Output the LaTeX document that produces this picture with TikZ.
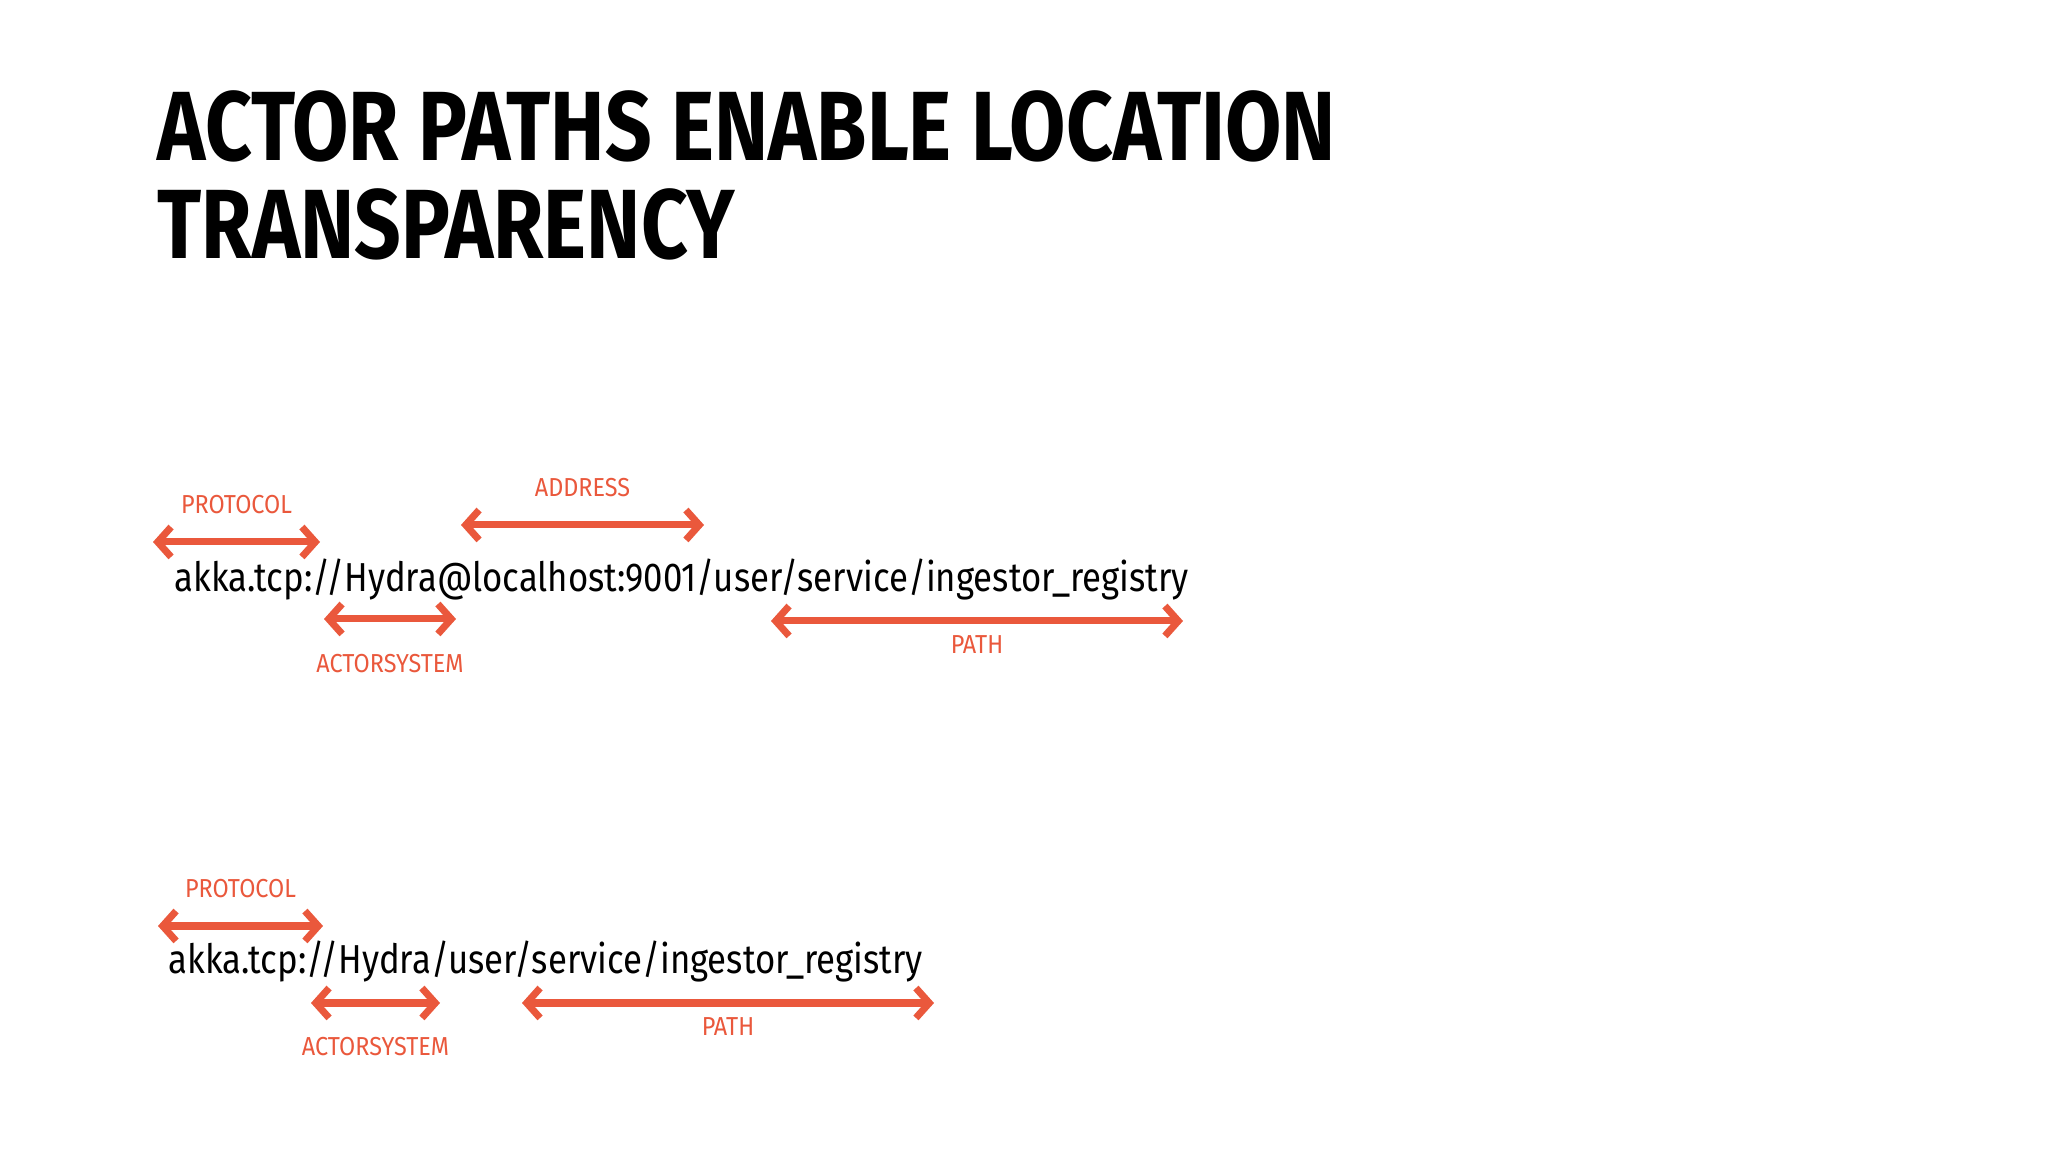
\documentclass[tikz,border=0pt]{standalone}
\usepackage{fontspec}
\usepackage{tikz}
\usetikzlibrary{arrows.meta,positioning}
\setmainfont{Fira Sans}
\newfontfamily\titlefont[FakeStretch=0.83]{Fira Sans}
\newfontfamily\addrfont[FakeStretch=0.86]{Fira Sans}
\newfontfamily\partfont[FakeStretch=0.9]{Fira Sans}
\definecolor{akkared}{RGB}{234,88,60}
\tikzset{
  span/.style={{Straight Barb[length=3.8pt,width=8.5pt]}-{Straight Barb[length=3.8pt,width=8.5pt]},
    draw=akkared, line width=2pt, line cap=round, line join=round},
  part/.style={text=akkared, inner sep=0pt, font=\partfont\fontsize{7.4}{8}\selectfont},
  addr/.style={anchor=base west, inner sep=0pt, font=\addrfont\fontsize{11.5}{13}\selectfont},
  headline/.style={anchor=base west, inner sep=0pt, font=\titlefont\bfseries\fontsize{28}{34}\selectfont}
}
\begin{document}
\begin{tikzpicture}
    \useasboundingbox[fill=white] (0,0) rectangle (20.48,11.52);
    % title
    \node[headline] (title1) at (1.57,9.91) {ACTOR PATHS ENABLE LOCATION};
    \node[headline] (title2) at (1.57,8.93) {TRANSPARENCY};
    % remote path
    \node[addr] (remote) at (1.74,5.60) {akka.tcp://Hydra@localhost:9001/user/service/ingestor\_registry};
    \coordinate (rprotoL) at (1.53,6.10);
    \coordinate (rprotoR) at (3.20,6.10);
    \coordinate (raddrL) at (4.61,6.27);
    \coordinate (raddrR) at (7.04,6.27);
    \coordinate (rsysL) at (3.24,5.33);
    \coordinate (rsysR) at (4.56,5.33);
    \coordinate (rpathL) at (7.71,5.31);
    \coordinate (rpathR) at (11.83,5.31);
    \draw[span] (rprotoL) -- node[part,above=0.245] (rproto) {PROTOCOL} (rprotoR);
    \draw[span] (raddrL) -- node[part,above=0.245] (raddr) {ADDRESS} (raddrR);
    \draw[span] (rsysL) -- node[part,below=0.32] (rsys) {ACTORSYSTEM} (rsysR);
    \draw[span] (rpathL) -- node[part,below=0.11] (rpath) {PATH} (rpathR);
    % local path
    \node[addr] (local) at (1.68,1.78) {akka.tcp://Hydra/user/service/ingestor\_registry};
    \coordinate (lprotoL) at (1.58,2.26);
    \coordinate (lprotoR) at (3.23,2.26);
    \coordinate (lsysL) at (3.11,1.49);
    \coordinate (lsysR) at (4.40,1.49);
    \coordinate (lpathL) at (5.22,1.49);
    \coordinate (lpathR) at (9.34,1.49);
    \draw[span] (lprotoL) -- node[part,above=0.245] (lproto) {PROTOCOL} (lprotoR);
    \draw[span] (lsysL) -- node[part,below=0.31] (lsys) {ACTORSYSTEM} (lsysR);
    \draw[span] (lpathL) -- node[part,below=0.11] (lpath) {PATH} (lpathR);
\end{tikzpicture}
\end{document}
